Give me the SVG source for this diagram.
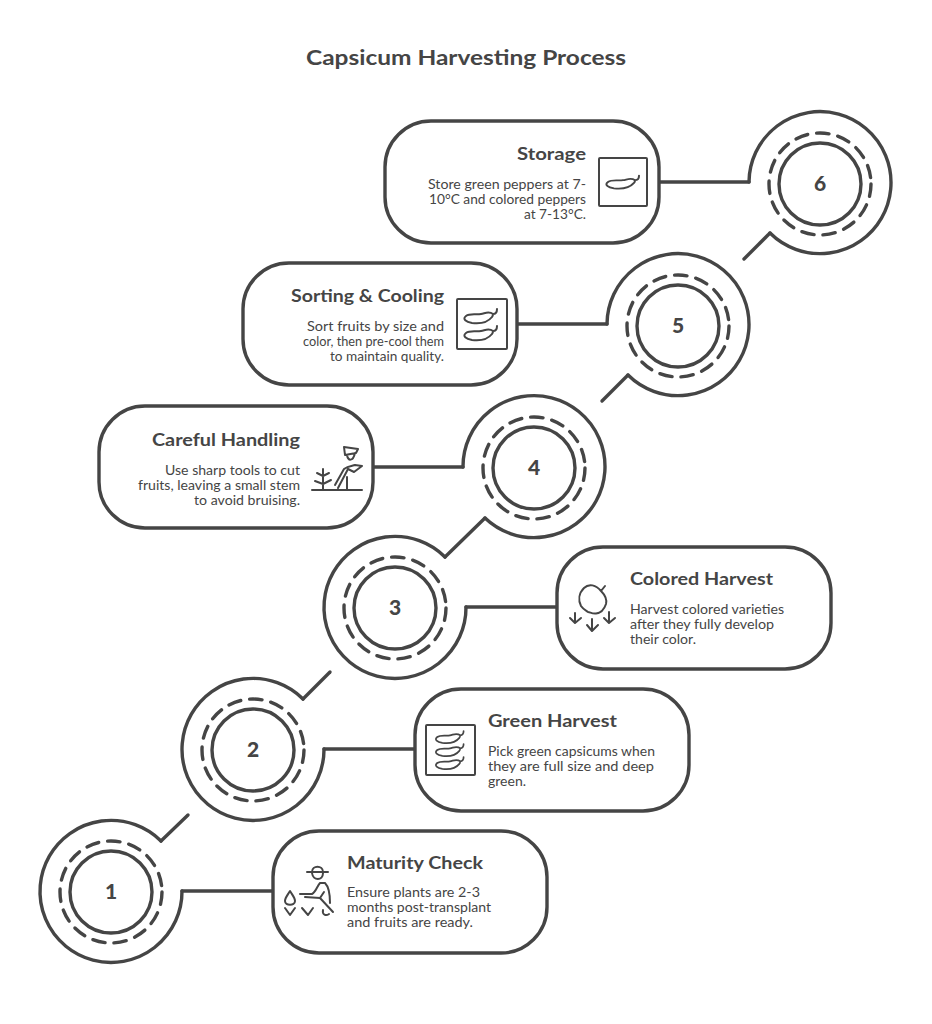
<svg xmlns="http://www.w3.org/2000/svg" xmlns:xlink="http://www.w3.org/1999/xlink" width="932" height="1024" viewBox="0 0 932 1024">
<style>
text{font-family:"Lato","Liberation Sans",sans-serif;fill:#454545}
.t{font-size:21px;font-weight:700}
.h{font-size:16.5px;font-weight:700}
.b{font-size:13px}
.n{font-size:21px;font-weight:900;text-anchor:middle}
.e{text-anchor:end}
.s{fill:none;stroke:#454545;stroke-width:3.4;stroke-linecap:round;stroke-linejoin:round}
.d{stroke-dasharray:12.5 9}
.i{fill:none;stroke:#454545;stroke-width:2;stroke-linecap:round;stroke-linejoin:round}
.bx{fill:#fff;stroke:#454545;stroke-width:3.4}
</style>
<defs>
<g id="disc"><circle class="s" r="41"/><circle class="s d" r="51"/></g>
<path id="pep" d="M16 -7C16 -4 15 -2 12 -2C8 -5 5 -3 0 -2C-5 -1 -11 -3 -15 0C-19 3 -15 6 -9 7C-1 8 7 6 11 1C12 0 12 -1 12 -2"/>
</defs>
<rect width="932" height="1024" fill="#fff"/>
<text class="t" x="306" y="65" textLength="320" lengthAdjust="spacingAndGlyphs">Capsicum Harvesting Process</text>

<g id="connectors" class="s">
<path d="M182 891H273"/>
<path d="M161 841L188 815"/>
<path d="M324 749H415"/>
<path d="M303 699L330 672"/>
<path d="M466 607H557"/>
<path d="M445 557L485 518"/>
<path d="M463 467H372"/>
<path d="M607 324H518"/>
<path d="M628 375L602 401"/>
<path d="M749 182H660"/>
<path d="M770 233L744 259"/>
</g>

<g id="node-1"><path class="s" d="M182 891A71 71 0 1 1 161 841"/><use xlink:href="#disc" href="#disc" x="111" y="892"/><text class="n" x="111" y="899">1</text></g>
<g id="node-2"><path class="s" d="M324 749A71 71 0 1 1 303 699"/><use xlink:href="#disc" href="#disc" x="253" y="750"/><text class="n" x="253" y="757">2</text></g>
<g id="node-3"><path class="s" d="M466 607A71 71 0 1 1 445 557"/><use xlink:href="#disc" href="#disc" x="395" y="608"/><text class="n" x="395" y="615">3</text></g>
<g id="node-4"><path class="s" d="M463 467A71 71 0 1 1 485 518"/><use xlink:href="#disc" href="#disc" x="534" y="468"/><text class="n" x="534" y="475">4</text></g>
<g id="node-5"><path class="s" d="M607 324A71 71 0 1 1 628 375"/><use xlink:href="#disc" href="#disc" x="678" y="326"/><text class="n" x="678" y="333">5</text></g>
<g id="node-6"><path class="s" d="M749 182A71 71 0 1 1 770 233"/><use xlink:href="#disc" href="#disc" x="820" y="184"/><text class="n" x="820" y="191">6</text></g>

<g id="storage">
<rect class="bx" x="385" y="121" width="274" height="122" rx="46"/>
<text class="h e" x="586" y="160" textLength="69" lengthAdjust="spacingAndGlyphs">Storage</text>
<text class="b e" x="586" y="189" textLength="158" lengthAdjust="spacingAndGlyphs">Store green peppers at 7-</text>
<text class="b e" x="586" y="204" textLength="157" lengthAdjust="spacingAndGlyphs">10°C and colored peppers</text>
<text class="b e" x="586" y="219" textLength="62" lengthAdjust="spacingAndGlyphs">at 7-13°C.</text>
<rect class="i" x="599" y="158" width="48" height="48" rx="1"/>
<use class="i" xlink:href="#pep" href="#pep" transform="translate(623 182) scale(1 .9)"/>
</g>

<g id="sorting">
<rect class="bx" x="243" y="263" width="274" height="122" rx="46"/>
<text class="h e" x="444" y="302" textLength="153" lengthAdjust="spacingAndGlyphs">Sorting &amp; Cooling</text>
<text class="b e" x="444" y="331" textLength="137" lengthAdjust="spacingAndGlyphs">Sort fruits by size and</text>
<text class="b e" x="444" y="346" textLength="141" lengthAdjust="spacingAndGlyphs">color, then pre-cool them</text>
<text class="b e" x="444" y="361" textLength="114" lengthAdjust="spacingAndGlyphs">to maintain quality.</text>
<rect class="i" x="457" y="299" width="50" height="50" rx="1"/>
<use class="i" xlink:href="#pep" href="#pep" transform="translate(481 316)"/>
<use class="i" xlink:href="#pep" href="#pep" transform="translate(481 333)"/>
</g>

<g id="handling">
<rect class="bx" x="99" y="406" width="274" height="122" rx="46"/>
<text class="h e" x="300" y="446" textLength="148" lengthAdjust="spacingAndGlyphs">Careful Handling</text>
<text class="b e" x="300" y="475" textLength="135" lengthAdjust="spacingAndGlyphs">Use sharp tools to cut</text>
<text class="b e" x="300" y="490" textLength="162" lengthAdjust="spacingAndGlyphs">fruits, leaving a small stem</text>
<text class="b e" x="300" y="505" textLength="106" lengthAdjust="spacingAndGlyphs">to avoid bruising.</text>
<path class="i" d="M312 490H362M323 490V469M317 473L323 476L329 473M315 481L323 484L331 480"/>
<path class="i" d="M335 485L344 469C348 466 352 466 355 465L362 466L354 472L348 469L338 488M347 477V490M344 447L358 449L356 453L345 455L344 447M347 455C348 461 353 462 355 453"/>
</g>

<g id="colored">
<rect class="bx" x="557" y="547" width="274" height="122" rx="46"/>
<text class="h" x="630" y="585" textLength="143" lengthAdjust="spacingAndGlyphs">Colored Harvest</text>
<text class="b" x="630" y="614" textLength="154" lengthAdjust="spacingAndGlyphs">Harvest colored varieties</text>
<text class="b" x="630" y="629" textLength="144" lengthAdjust="spacingAndGlyphs">after they fully develop</text>
<text class="b" x="630" y="644" textLength="66" lengthAdjust="spacingAndGlyphs">their color.</text>
<path class="i" d="M601 591C605 595 607 600 606 604C604 610 601 613 596 613.500C592 614 590 612 588 612C585 610 583 609 581 606C578 600 579 593 584 588C589 583 596 585 601 591ZM601 591L605 586"/>
<path class="i" d="M575 613V622M570 618L575 623L581 618M592 619V630M587 625L592 631L598 625M609 612V622M604 618L609 623L615 618"/>
</g>

<g id="green">
<rect class="bx" x="415" y="689" width="274" height="122" rx="46"/>
<text class="h" x="488" y="727" textLength="129" lengthAdjust="spacingAndGlyphs">Green Harvest</text>
<text class="b" x="488" y="756" textLength="167" lengthAdjust="spacingAndGlyphs">Pick green capsicums when</text>
<text class="b" x="488" y="771" textLength="166" lengthAdjust="spacingAndGlyphs">they are full size and deep</text>
<text class="b" x="488" y="786" textLength="38" lengthAdjust="spacingAndGlyphs">green.</text>
<rect class="i" x="426" y="725" width="49" height="50" rx="1"/>
<use class="i" xlink:href="#pep" href="#pep" transform="translate(450 737) scale(.85)"/>
<use class="i" xlink:href="#pep" href="#pep" transform="translate(450 750) scale(.85)"/>
<use class="i" xlink:href="#pep" href="#pep" transform="translate(450 763) scale(.85)"/>
</g>

<g id="maturity">
<rect class="bx" x="273" y="831" width="274" height="122" rx="46"/>
<text class="h" x="347" y="869" textLength="136" lengthAdjust="spacingAndGlyphs">Maturity Check</text>
<text class="b" x="347" y="897" textLength="133" lengthAdjust="spacingAndGlyphs">Ensure plants are 2-3</text>
<text class="b" x="347" y="912" textLength="144" lengthAdjust="spacingAndGlyphs">months post-transplant</text>
<text class="b" x="347" y="927" textLength="126" lengthAdjust="spacingAndGlyphs">and fruits are ready.</text>
<g class="i">
<path d="M307 872H328M312 872C312 865 323 865 323 872M312 873C313 881 323 881 323 873"/>
<path d="M300 894H312C316 892 317 886 320 883L325 883C328 886 330 890 330 903M305 897L320 898L324 892M320 898L333 912M323 910C322 915 326 916 329 914"/>
<path d="M290 891C287 896 285 898 285 901C285 906 295 906 295 901C295 898 293 896 290 891Z"/>
<path d="M285 908L290 915L295 908M302 908L308 915L313 908"/>
</g>
</g>
</svg>
